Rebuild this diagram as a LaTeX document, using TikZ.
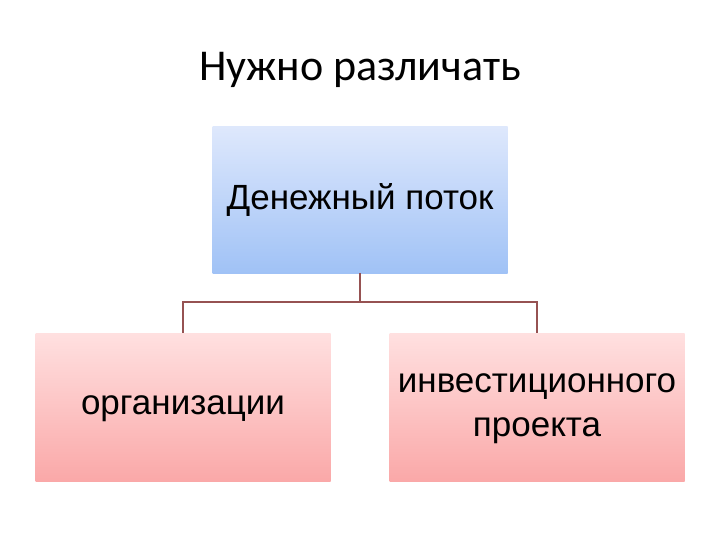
\documentclass[tikz,border=0pt]{standalone}
\usepackage{fontspec}
\setmainfont{Liberation Sans}
\newfontfamily\titlefont{Carlito}
\usetikzlibrary{positioning}
\definecolor{linkred}{RGB}{150,82,82}
\definecolor{bluetop}{RGB}{222,232,252}
\definecolor{bluebot}{RGB}{160,194,246}
\definecolor{pinktop}{RGB}{255,224,224}
\definecolor{pinkbot}{RGB}{250,168,168}

\begin{document}
\begin{tikzpicture}[x=1pt,y=-1pt,
  box/.style={minimum width=295pt, minimum height=148pt, inner sep=0pt, align=center,
    font=\fontsize{35}{44}\selectfont},
  bluebox/.style={box, top color=bluetop, bottom color=bluebot},
  pinkbox/.style={box, top color=pinktop, bottom color=pinkbot, text depth=4pt},
  link/.style={draw=linkred, line width=1.6pt}]
\useasboundingbox (0,0) rectangle (720,540);

\node[font=\titlefont\fontsize{44}{50}\selectfont] (title) at (360,70) {Нужно различать};

\node[bluebox, minimum height=146pt] (flow) at (360,200) {Денежный поток};
\node[pinkbox] (org) at (183,407.5) {организации};
\node[pinkbox] (inv) at (537,407.5) {инвестиционного\\проекта};

\coordinate (split) at (360,302);
\draw[link] (flow.south) -- (split);
\draw[link] (split) -| (org.north);
\draw[link] (split) -| (inv.north);
\end{tikzpicture}
\end{document}
